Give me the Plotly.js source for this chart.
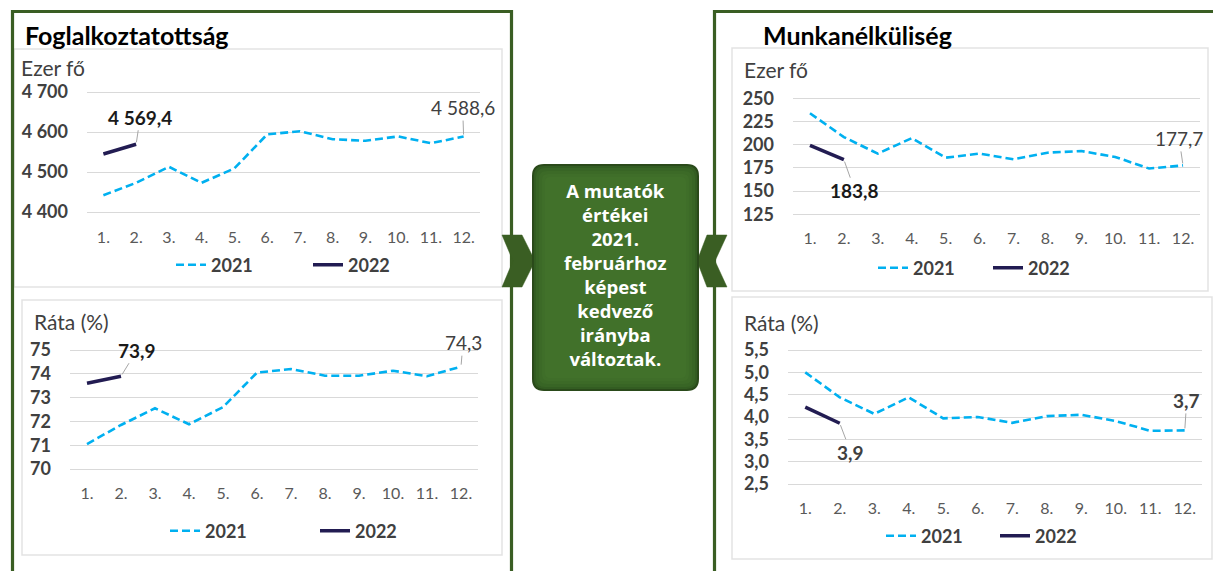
<!DOCTYPE html>
<html>
<head>
<meta charset="utf-8">
<script src="https://cdn.plot.ly/plotly-3.0.1.min.js"></script>
<style>
html,body{margin:0;padding:0;background:#fff;}
#chart{width:1213px;height:571px;}
</style>
</head>
<body>
<div id="chart"></div>
<script>
// ---------- DATA ----------
const months = ['1.','2.','3.','4.','5.','6.','7.','8.','9.','10.','11.','12.'];
const seriesNames = ['2021','2022'];

const employment2021 = [4442, 4473, 4513, 4473, 4509, 4594, 4602, 4582, 4578, 4589, 4572, 4588.6];
const employment2022 = [4545, 4569.4];

const employmentRate2021 = [71.05, 71.85, 72.55, 71.88, 72.6, 74.05, 74.2, 73.92, 73.92, 74.13, 73.9, 74.3];
const employmentRate2022 = [73.6, 73.9];

const unemployment2021 = [233.9, 208.2, 190.4, 207, 186, 190.4, 184.3, 191.4, 193.2, 186.8, 174.3, 177.7];
const unemployment2022 = [199.3, 183.8];

const unemploymentRate2021 = [5.0, 4.44, 4.07, 4.44, 3.97, 4.0, 3.87, 4.02, 4.05, 3.91, 3.69, 3.7];
const unemploymentRate2022 = [4.22, 3.86];

const titleLeft = 'Foglalkoztatottság';
const titleRight = 'Munkanélküliség';
const unitPersons = 'Ezer fő';
const unitRate = 'Ráta (%)';
const centerText = ['A mutatók','értékei','2021.','februárhoz','képest','kedvező','irányba','változtak.'];

// ---------- STYLE / GEOMETRY ----------
const W = 1213, H = 571;
const X = px => px / W;
const Y = py => 1 - py / H;
const FONT = 'Lato, "Open Sans", sans-serif';
const C2021 = '#00B0F0';
const C2022 = '#221C52';
const GREEN = '#3a5e23';
const GRID = '#d9d9d9';
const TXT = '#404040';

// pixel geometry of each panel: plot x span, two reference gridlines (value, px), range
const panels = [
  {id:'', xpx:[87,480], ref:[[4400,212],[4700,92]], range:[4380,4720], dtick:100, tick0:4400, fmt:',.0f',
   d21:employment2021, d22:employment2022, dec:1, lab22:{ax:4, ay:-27}, lab21:{ax:-1, ay:-29},
   legend:{x:171, y:265, ew:92}},
  {id:'2', xpx:[70,478], ref:[[70,469],[75,350]], range:[69.7,75.3], dtick:1, tick0:70, fmt:'d',
   d21:employmentRate2021, d22:employmentRate2022, dec:1, lab22:{ax:16, ay:-26}, lab21:{ax:2, ay:-24},
   legend:{x:165, y:531, ew:105}},
  {id:'3', xpx:[793,1200], ref:[[125,214.3],[250,98.3]], range:[118,257], dtick:25, tick0:125, fmt:'d',
   d21:unemployment2021, d22:unemployment2022, dec:1, lab22:{ax:11, ay:31}, lab21:{ax:-4, ay:-27},
   legend:{x:873, y:268, ew:70}},
  {id:'4', xpx:[788,1202], ref:[[2.5,484],[5.5,350]], range:[2.35,5.65], dtick:0.5, tick0:2.5, fmt:'.1f',
   d21:unemploymentRate2021, d22:unemploymentRate2022, dec:1, lab22:{ax:11, ay:29}, lab21:{ax:2, ay:-30},
   legend:{x:881, y:536, ew:69}}
];

function fmtNum(v, dec){
  const s = v.toFixed(dec).split('.');
  const intPart = s[0].replace(/\B(?=(\d{3})+(?!\d))/g, ' ');
  return s.length > 1 ? intPart + ',' + s[1] : intPart;
}

const traces = [];
const layout = {
  width: W, height: H,
  margin: {l:0, r:0, t:0, b:0},
  paper_bgcolor: '#ffffff',
  plot_bgcolor: 'rgba(0,0,0,0)',
  separators: ', ',
  showlegend: true,
  font: {family: FONT, color: TXT},
  shapes: [],
  annotations: []
};

panels.forEach((p, i) => {
  const [[v1,p1],[v2,p2]] = p.ref;
  const pxOf = v => p1 + (v - v1) * (p2 - p1) / (v2 - v1);
  const yBottom = pxOf(p.range[0]), yTop = pxOf(p.range[1]);
  const xa = 'xaxis' + p.id, ya = 'yaxis' + p.id;
  const xr = 'x' + p.id, yr = 'y' + p.id;
  const lg = 'legend' + p.id;

  layout[xa] = {
    domain: [X(p.xpx[0]), X(p.xpx[1])],
    anchor: yr,
    type: 'category',
    range: [-0.5, 11.5],
    showgrid: false, zeroline: false, showline: false,
    ticks: '',
    ticklabelstandoff: 6,
    tickfont: {family: FONT, size: 16, color: '#595959'},
    fixedrange: true
  };
  layout[ya] = {
    domain: [Y(yBottom), Y(yTop)],
    anchor: xr,
    range: p.range,
    tick0: p.tick0, dtick: p.dtick,
    tickformat: p.fmt,
    showgrid: true, gridcolor: GRID, gridwidth: 1,
    zeroline: false, showline: false,
    ticks: '',
    ticklabelstandoff: 18,
    tickfont: {family: FONT, size: 18, color: TXT, weight: 'bold'},
    fixedrange: true
  };
  layout[lg] = {
    orientation: 'h',
    x: X(p.legend.x), y: Y(p.legend.y),
    xanchor: 'left', yanchor: 'middle',
    xref: 'paper', yref: 'paper',
    bgcolor: 'rgba(0,0,0,0)',
    font: {family: FONT, size: 18, color: TXT, weight: 'bold'},
    entrywidth: p.legend.ew,
    itemclick: false, itemdoubleclick: false
  };

  traces.push({
    type: 'scatter', mode: 'lines', name: seriesNames[0],
    x: months, y: p.d21, xaxis: xr, yaxis: yr, legend: lg,
    line: {color: C2021, width: 2.6, dash: '8px,4px'},
    hoverinfo: 'skip'
  });
  traces.push({
    type: 'scatter', mode: 'lines', name: seriesNames[1],
    x: months.slice(0, p.d22.length), y: p.d22, xaxis: xr, yaxis: yr, legend: lg,
    line: {color: C2022, width: 3.5},
    hoverinfo: 'skip'
  });

  // data labels (x given as category index)
  const last22 = p.d22.length - 1;
  layout.annotations.push({
    xref: xr, yref: yr, x: last22, y: p.d22[last22],
    text: fmtNum(p.d22[last22], p.dec),
    showarrow: true, arrowhead: 0, arrowwidth: 1, arrowcolor: '#a6a6a6',
    ax: p.lab22.ax, ay: p.lab22.ay, standoff: 2,
    font: {family: FONT, size: 19, color: (i === 3 ? TXT : '#1a1a1a'), weight: 'bold'}
  });
  const last21 = p.d21.length - 1;
  layout.annotations.push({
    xref: xr, yref: yr, x: last21, y: p.d21[last21],
    text: fmtNum(p.d21[last21], p.dec),
    showarrow: true, arrowhead: 0, arrowwidth: 1, arrowcolor: '#a6a6a6',
    ax: p.lab21.ax, ay: p.lab21.ay, standoff: 2,
    font: {family: FONT, size: 19, color: TXT, weight: (i === 3 ? 'bold' : 'normal')}
  });
});

// panel boxes
[[14,49,502,287],[22,300,502,555],[732,48,1208,291],[732,297,1212,559]].forEach(b => {
  layout.shapes.push({type:'rect', xref:'paper', yref:'paper',
    x0:X(b[0]), x1:X(b[2]), y0:Y(b[3]), y1:Y(b[1]),
    line:{color:'#e3e3e3', width:1.5}, fillcolor:'rgba(0,0,0,0)', layer:'below'});
});

// outer green frames
function pathPx(pts, close){
  return pts.map((q, k) => (k ? 'L' : 'M') + X(q[0]).toFixed(5) + ',' + Y(q[1]).toFixed(5)).join(' ') + (close ? ' Z' : '');
}
layout.shapes.push({type:'path', xref:'paper', yref:'paper',
  path: pathPx([[12.5,600],[12.5,11.5],[511.5,11.5],[511.5,600]], false),
  line:{color:GREEN, width:3.2}});
layout.shapes.push({type:'path', xref:'paper', yref:'paper',
  path: pathPx([[714.5,600],[714.5,11.5],[1230,11.5]], false),
  line:{color:GREEN, width:3.2}});

// chevrons
layout.shapes.push({type:'path', xref:'paper', yref:'paper',
  path: pathPx([[502,235],[522,235],[535,261],[522,287],[502,287],[513,261]], true),
  fillcolor:GREEN, line:{color:GREEN, width:0.5}});
layout.shapes.push({type:'path', xref:'paper', yref:'paper',
  path: pathPx([[727,235],[707,235],[697,261],[707,287],[727,287],[715,261]], true),
  fillcolor:GREEN, line:{color:GREEN, width:0.5}});

// central rounded box with a soft inner glow
function roundRect(x0, y0, x1, y1, r){
  const P = (x,y) => X(x).toFixed(5) + ',' + Y(y).toFixed(5);
  return 'M' + P(x0+r,y0) + ' L' + P(x1-r,y0) + ' Q' + P(x1,y0) + ' ' + P(x1,y0+r) +
    ' L' + P(x1,y1-r) + ' Q' + P(x1,y1) + ' ' + P(x1-r,y1) +
    ' L' + P(x0+r,y1) + ' Q' + P(x0,y1) + ' ' + P(x0,y1-r) +
    ' L' + P(x0,y0+r) + ' Q' + P(x0,y0) + ' ' + P(x0+r,y0) + ' Z';
}
layout.shapes.push({type:'path', xref:'paper', yref:'paper', path:roundRect(533,165,698,390,11),
  fillcolor:'#335d22', line:{color:'#2a4a1a', width:2}});
[3,6,9,12].forEach(d => {
  layout.shapes.push({type:'path', xref:'paper', yref:'paper',
    path:roundRect(533+d,165+d,698-d,390-d,Math.max(11-d/2,4)),
    fillcolor:'rgba(72,122,48,0.28)', line:{width:0}});
});

layout.annotations.push({xref:'paper', yref:'paper', x:X(615.5), y:Y(274),
  xanchor:'center', yanchor:'middle', showarrow:false, align:'center',
  text: centerText.join('<br>'),
  font:{family:'"Open Sans", Lato, sans-serif', size:18.5, color:'#ffffff', weight:'bold'}});

// titles and unit labels
const textItems = [
  {t:titleLeft, x:23, y:35, size:25, bold:true, color:'#000000'},
  {t:titleRight, x:761, y:35, size:25, bold:true, color:'#000000'},
  {t:unitPersons, x:19, y:67, size:21, bold:false, color:TXT},
  {t:unitRate, x:32, y:321, size:21, bold:false, color:TXT},
  {t:unitPersons, x:742, y:70, size:21, bold:false, color:TXT},
  {t:unitRate, x:742, y:322, size:21, bold:false, color:TXT}
];
textItems.forEach(o => {
  layout.annotations.push({xref:'paper', yref:'paper', x:X(o.x), y:Y(o.y),
    xanchor:'left', yanchor:'middle', showarrow:false, text:o.t,
    font:{family:FONT, size:o.size, color:o.color, weight:(o.bold ? 'bold' : 'normal')}});
});

Plotly.newPlot('chart', traces, layout, {staticPlot:true, displayModeBar:false});
</script>
</body>
</html>
